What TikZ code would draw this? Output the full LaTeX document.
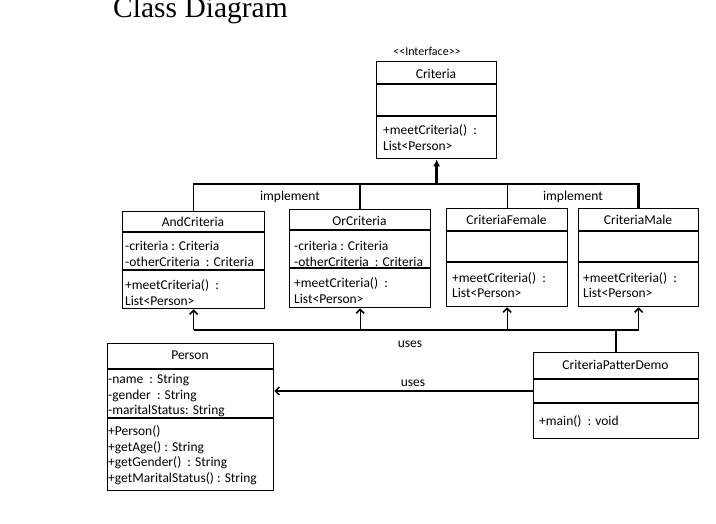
\documentclass[tikz,border=0pt]{standalone}
\usepackage{fontspec}
\setmainfont{Carlito}
\newfontfamily\titlefont{Liberation Serif}
\usetikzlibrary{arrows.meta,calc}
\begin{document}
\begin{tikzpicture}[x=1pt,y=-1pt,
  classbox/.style={draw, line width=1.3pt, inner sep=0, anchor=north west},
  sep/.style={line width=1.3pt},
  txt/.style={font=\fontsize{13.5}{15.7}\selectfont, inner sep=0, align=left, anchor=base west},
  ctxt/.style={font=\fontsize{13.5}{15.7}\selectfont, inner sep=0, anchor=base},
  thinline/.style={line width=1.3pt},
  thickline/.style={line width=2.5pt},
  realize/.style={-{Straight Barb[length=4pt,width=8pt,line width=1.5pt]}},
  mainarrow/.style={-{Latex[length=7pt,width=7pt]}}]
\useasboundingbox (0,0) rectangle (716,524);
% title
\node[font=\titlefont\fontsize{29.5}{32}\selectfont, inner sep=0, anchor=base west] (title) at (113,17.5) {Class Diagram};

% Criteria
\node[ctxt, font=\fontsize{12}{14}\selectfont] (stereo) at (427,56) {<{}<Interface>{}>};
\node[classbox, minimum width=120, minimum height=97] (crit) at (376,61) {};
\draw[sep] (376,84) -- (496,84) (376,116) -- (496,116);
\node[ctxt] (critname) at (436,78.5) {Criteria};
\node[txt] (critm) at (383,150.2) {+meetCriteria()\ \ :\\List<Person>};

% AndCriteria
\node[classbox, minimum width=142, minimum height=97] (andc) at (122,211) {};
\draw[sep] (122,232) -- (264,232) (122,270) -- (264,270);
\node[ctxt] (andname) at (193,226.5) {AndCriteria};
\node[txt] (anda) at (125,266.2) {-criteria : Criteria\\-otherCriteria \ : Criteria};
\node[txt] (andm) at (125,305.2) {+meetCriteria()\ \ :\\List<Person>};

% OrCriteria
\node[classbox, minimum width=141, minimum height=98] (orc) at (289,209) {};
\draw[sep] (289,230) -- (430,230) (289,268) -- (430,268);
\node[ctxt] (orname) at (359.5,226) {OrCriteria};
\node[txt] (ora) at (294,266.2) {-criteria : Criteria\\-otherCriteria \ : Criteria};
\node[txt] (orm) at (294,303.7) {+meetCriteria()\ \ :\\List<Person>};

% CriteriaFemale
\node[classbox, minimum width=121, minimum height=98] (fem) at (446,208) {};
\draw[sep] (446,231) -- (567,231) (446,262) -- (567,262);
\node[ctxt] (femname) at (506.5,224.5) {CriteriaFemale};
\node[txt] (femm) at (452,297.7) {+meetCriteria()\ \ :\\List<Person>};

% CriteriaMale
\node[classbox, minimum width=120, minimum height=98] (male) at (578,208) {};
\draw[sep] (578,231) -- (698,231) (578,262) -- (698,262);
\node[ctxt] (malename) at (638,224.5) {CriteriaMale};
\node[txt] (malem) at (583,297.7) {+meetCriteria()\ \ :\\List<Person>};

% Person
\node[classbox, minimum width=166, minimum height=147] (person) at (107,343) {};
\draw[sep] (107,369) -- (273,369) (107,418) -- (273,418);
\node[ctxt] (pname) at (190,359.5) {Person};
\node[txt] (pa) at (108,414.9) {-name\ \ : String\\-gender\ \ : String\\-maritalStatus: String};
\node[txt] (pm) at (108,482.6) {+Person()\\+getAge() : String\\+getGender()\ \ : String\\+getMaritalStatus() : String};

% CriteriaPatterDemo
\node[classbox, minimum width=165, minimum height=86] (cpd) at (533,352) {};
\draw[sep] (533,379) -- (698,379) (533,403) -- (698,403);
\node[ctxt] (cpdname) at (615.5,369.5) {CriteriaPatterDemo};
\node[txt] (cpdm) at (539,425.5) {+main()\ \ : void};

% connectors
\coordinate (topbus) at (0,184);
\coordinate (botbus) at (0,330);
\coordinate (usesy) at (0,391);
\draw[thinline] (andc.north) -- (andc.north |- topbus) -- (orc.north |- topbus);
\draw[thickline] (orc.north) -- (orc.north |- topbus) -- (male.north |- topbus) -- (male.north);
\draw[thinline] (fem.north) -- (fem.north |- topbus);
\draw[thickline, mainarrow] (crit.south |- topbus) -- (crit.south);
\node[ctxt] (impl1) at (290,201) {implement};
\node[ctxt] (impl2) at (573,201) {implement};

\draw[thinline] (andc.south |- botbus) -- (orc.south |- botbus);
\draw[thickline] (orc.south |- botbus) -- (male.south |- botbus);
\draw[thickline] (cpd.north) -- (cpd.north |- botbus);
\draw[thinline, realize] (andc.south |- botbus) -- (andc.south);
\draw[thinline, realize] (orc.south |- botbus) -- (orc.south);
\draw[thinline, realize] (fem.south |- botbus) -- (fem.south);
\draw[thinline, realize] (male.south |- botbus) -- (male.south);
\node[ctxt] (uses1) at (410,348) {uses};

\draw[thinline, realize] (cpd.west |- usesy) -- (person.east |- usesy);
\node[ctxt] (uses2) at (413,386) {uses};
\end{tikzpicture}
\end{document}
